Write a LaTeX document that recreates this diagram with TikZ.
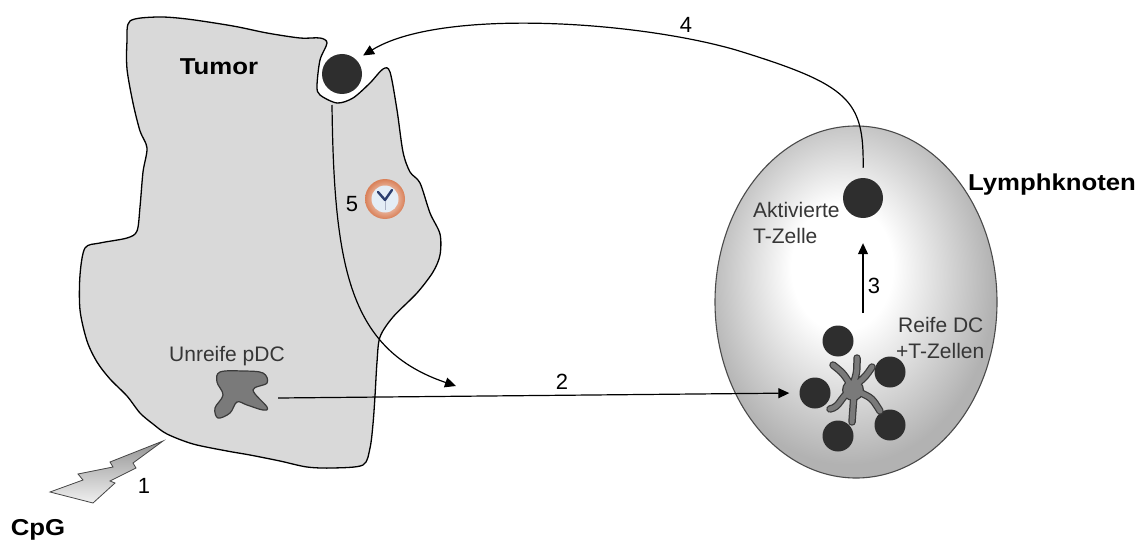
\documentclass[tikz,border=0pt]{standalone}
\usepackage{fontspec}
\setmainfont{Liberation Sans}
\newfontfamily\headfont[FakeStretch=1.12]{Liberation Sans}
\usetikzlibrary{arrows.meta}
\definecolor{tumorfill}{HTML}{D9D9D9}
\definecolor{cellc}{HTML}{2E2E2E}
\definecolor{dcfill}{HTML}{7A7A7A}
\definecolor{dcline}{HTML}{3A3A3A}
\definecolor{lngray}{HTML}{B2B2B2}
\definecolor{lnline}{HTML}{4A4A4A}
\definecolor{txtc}{HTML}{363636}
\definecolor{clockedge}{HTML}{D98058}
\definecolor{clockface}{HTML}{E4EDF6}
\definecolor{clockhand}{HTML}{2C3E6E}
\pgfdeclareradialshading{lymphshade}{\pgfpoint{-3bp}{6bp}}{color(0bp)=(white); color(9bp)=(white); color(26bp)=(lngray); color(50bp)=(lngray)}
\begin{document}
\begin{tikzpicture}[x=1pt,y=-1pt,
  tcell/.style={circle, fill=cellc, inner sep=0pt, minimum size=40pt},
  ccell/.style={circle, fill=cellc, inner sep=0pt, minimum size=31pt},
  lbl/.style={font=\fontsize{21}{25}\selectfont, text=txtc, inner sep=0pt},
  num/.style={font=\fontsize{22}{26}\selectfont, inner sep=0pt},
  heading/.style={font=\headfont\bfseries\fontsize{23}{27}\selectfont, inner sep=0pt},
  conn/.style={draw=black, line width=1.2pt, -{Triangle[length=11pt,width=10pt]}},
  armout/.style={draw=dcline, line width=7.5pt, line cap=round},
  armin/.style={draw=dcfill, line width=5pt, line cap=round},
]
\useasboundingbox (0,0) rectangle (1147,540);
\fill[white] (0,0) rectangle (1147,540);

% tumour tissue with the notch holding the T cell
\filldraw[fill=tumorfill, draw=black, line width=1.3pt] plot[smooth cycle, tension=0.5] coordinates {
 (130,21) (157,17) (187,19) (233,26) (267,33) (300,38) (320,38) (327,43) (320,60) (317,86)
 (320,95) (337,103) (353,98) (370,83) (383,69) (390,72) (397,110) (403,152) (410,172)
 (420,183) (430,213) (440,234) (440,255) (433,272) (417,293) (393,317) (380,337) (377,362)
 (375,396) (373,424) (370,448) (363,465) (333,468) (307,467) (280,461) (250,455) (227,451)
 (193,444) (167,434) (153,424) (140,413) (127,396) (110,379) (97,362) (87,341) (80,310)
 (80,275) (85,248) (100,243) (127,238) (137,231) (140,207) (143,172) (147,148) (140,131)
 (133,103) (127,69) (127,41)};

% lymph node
\shadedraw[shading=lymphshade, draw=lnline, line width=1.1pt] (856,302) ellipse [x radius=141, y radius=176];

% immature pDC
\filldraw[fill=dcfill, draw=dcline, line width=1.2pt] plot[smooth cycle, tension=0.6] coordinates {
 (220,372) (243,371) (263,373) (267,383) (253,390) (267,407) (263,410) (247,405) (237,402)
 (230,413) (218,418) (215,408) (223,395) (217,382)};
\node[inner sep=0pt, minimum width=70pt, minimum height=48pt] (pdc) at (243,398) {};

% T cells
\node[tcell] (tumT) at (342,74) {};
\node[tcell] (actT) at (863,198) {};
\node[ccell] (c1) at (838,341) {};
\node[ccell] (c2) at (890,372) {};
\node[ccell] (c3) at (815,393) {};
\node[ccell] (c4) at (890,425) {};
\node[ccell] (c5) at (838,436) {};

% mature dendritic cell
\draw[armout] (853,385) .. controls (857,372) .. (857,358)
  (850,384) .. controls (843,373) .. (833,365)
  (857,384) .. controls (866,376) .. (872,367)
  (859,392) .. controls (872,398) .. (880,411)
  (854,394) .. controls (853,408) .. (852,422)
  (849,392) .. controls (840,398) and (840,407) .. (830,409);
\fill[dcline] (853,390) circle (11);
\draw[armin] (853,385) .. controls (857,372) .. (857,358)
  (850,384) .. controls (843,373) .. (833,365)
  (857,384) .. controls (866,376) .. (872,367)
  (859,392) .. controls (872,398) .. (880,411)
  (854,394) .. controls (853,408) .. (852,422)
  (849,392) .. controls (840,398) and (840,407) .. (830,409);
\fill[dcfill] (853,390) circle (9.7);

% clock
\shade[inner color=white, outer color=clockedge] (385,199) circle (20);
\fill[clockface] (385,199) circle (13.5);
\draw[clockhand!40, line width=0.6pt] (385,199) -- (385,210);
\draw[clockhand, line width=2.4pt, line cap=round, line join=round] (378,192) -- (385,200) -- (392,190);

% CpG stimulus
\shadedraw[top color=gray!85, bottom color=gray!12, draw=gray!55!black, line width=0.8pt]
  (163,441) -- (110,462) -- (113,467) -- (78,474) -- (83,480) -- (50,492) -- (93,503)
  -- (115,483) -- (110,481) -- (136,468) -- (133,463) -- cycle;

% connectors
\coordinate (a5start) at (332,105);
\coordinate (a5end) at (456,386);
\coordinate (a3start) at (863,313);
\coordinate (a4bend) at (736,50);
\draw[conn] (a5start) .. controls (334,270) and (350,350) .. (a5end);
\draw[conn, shorten >=10pt] (pdc.east) -- (c3.west);
\draw[conn, shorten >=25pt] (a3start) -- (actT.south);
\draw[conn, shorten <=10pt, shorten >=8pt] (actT.north) .. controls (864,100) and (850,85) .. (a4bend)
  .. controls (636,21) and (440,8) .. (tumT.north east);

% labels
\node[heading, anchor=base] (tTumor) at (219,75) {Tumor};
\node[heading, anchor=base] (tLymph) at (1052,190) {Lymphknoten};
\node[heading, anchor=base] (tCpG) at (38,535) {CpG};
\node[lbl, anchor=base] (tPdc) at (227,361) {Unreife pDC};
\node[lbl, anchor=base west] (tAkt1) at (753,217) {Aktivierte};
\node[lbl, anchor=base west] (tAkt2) at (753,243) {T-Zelle};
\node[lbl, anchor=base west] (tReif1) at (898,332) {Reife DC};
\node[lbl, anchor=base west] (tReif2) at (896,358) {+T-Zellen};
\node[num, anchor=base] (n1) at (144,493) {1};
\node[num, anchor=base] (n2) at (562,389) {2};
\node[num, anchor=base] (n3) at (874,293) {3};
\node[num, anchor=base] (n4) at (686,33) {4};
\node[num, anchor=base] (n5) at (352,211) {5};
\end{tikzpicture}
\end{document}
